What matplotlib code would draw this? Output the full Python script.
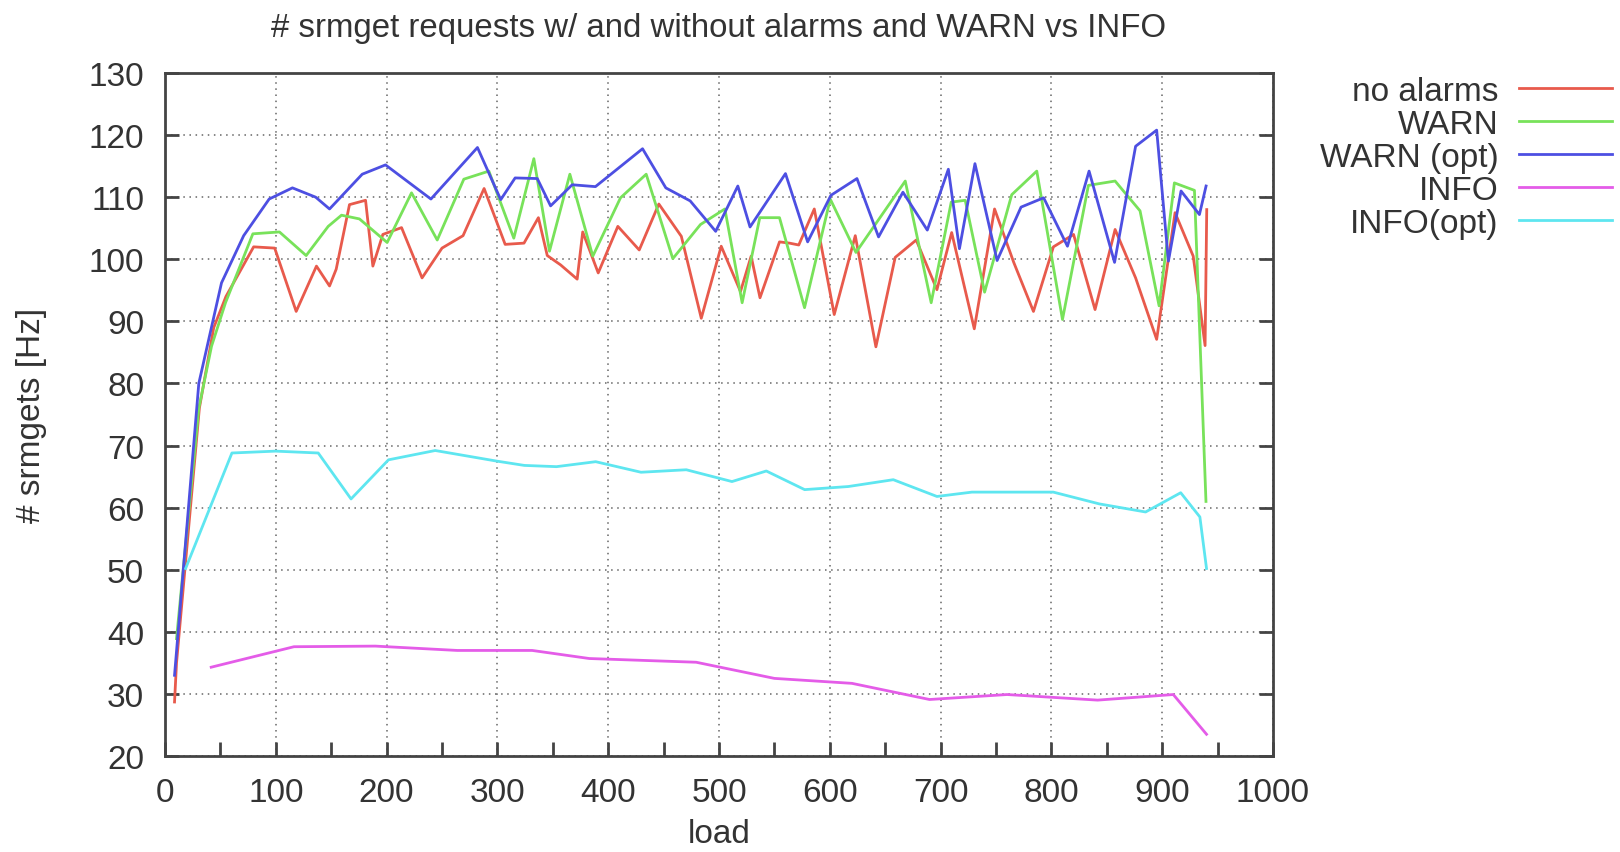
import matplotlib
matplotlib.use('Agg')
import matplotlib.pyplot as plt
from matplotlib.ticker import MultipleLocator

plt.rcParams['font.family'] = ['Liberation Sans', 'DejaVu Sans']

# load / rate pairs, one list per series
noalarm_x = [8.6, 10.4, 31, 44, 55, 80, 99, 118.4, 136.7, 148.5, 154.5, 166.5, 181, 187.6, 196.6,
             213.5, 232, 250, 269, 288, 307, 324, 337, 345, 357, 372, 377, 391, 408.7, 428,
             445.7, 466, 484, 502, 519.4, 529, 537, 554.6, 563.6, 572, 586, 604, 623, 641.6,
             659, 678, 696.7, 710, 730.4, 748.7, 766, 783.8, 801.8, 820, 839.4, 857.5, 876,
             895, 911.6, 928, 938.7, 940.2]
noalarm_y = [28.7, 35, 76, 89, 94, 102, 101.8, 91.6, 98.9, 95.7, 98.4, 108.8, 109.5, 98.9, 104,
             105.1, 97, 101.8, 103.8, 111.4, 102.4, 102.6, 106.7, 100.6, 99.1, 96.8, 104.4, 97.8,
             105.3, 101.5, 108.9, 103.7, 90.5, 102.1, 94.8, 100.5, 93.8, 102.8, 102.6, 102.3,
             108.1, 91.1, 103.8, 85.9, 100.3, 103.1, 95.1, 104.3, 88.8, 108.1, 99.5, 91.6, 102,
             104, 91.9, 104.8, 97, 87.1, 107.5, 100.5, 86.1, 108]

warn_x = [10.4, 30.5, 42, 54.6, 79.3, 103.3, 127.4, 147.3, 159.3, 175.5, 200.5, 222.5, 245.7,
          269.7, 292.3, 314.8, 332.9, 347, 365.4, 386.1, 411.1, 434.3, 458.3, 483.3, 505.3,
          520.9, 536.8, 554.6, 577.2, 600.4, 623.6, 668.1, 691.5, 709.6, 722.2, 739.7, 764.2,
          786.8, 810, 833.4, 857.5, 880, 897.2, 911, 929.1, 939.5]
warn_y = [38.9, 76, 86, 93, 104.1, 104.4, 100.6, 105.3, 107.1, 106.5, 102.7, 110.7, 103.1,
          112.9, 114.2, 103.4, 116.2, 101.3, 113.7, 100.5, 109.9, 113.7, 100.1, 105.6, 108.1,
          93, 106.7, 106.7, 92.2, 109.7, 101.1, 112.6, 93, 109.2, 109.5, 94.7, 110.4, 114.2,
          90.3, 111.9, 112.6, 107.8, 92.5, 112.3, 111.1, 61]

warnopt_x = [8.6, 30.5, 51, 71, 94, 115, 136, 148.5, 178, 199, 240, 282, 303, 316, 336, 348,
             367.5, 388.5, 431, 452, 474, 497, 517, 528, 560, 580, 601, 624.5, 644, 666, 688,
             707, 717, 731, 751, 772.6, 793, 814.5, 834, 857, 876, 895, 905.6, 917, 933.6, 939.6]
warnopt_y = [33, 80, 96.2, 103.8, 109.7, 111.5, 110, 108.1, 113.7, 115.2, 109.7, 118, 109.6,
             113.1, 113, 108.6, 112, 111.7, 117.8, 111.5, 109.4, 104.5, 111.8, 105.2, 113.8,
             102.8, 110.3, 113, 103.6, 110.8, 104.7, 114.5, 101.7, 115.4, 99.8, 108.4, 109.9,
             102.1, 114.2, 99.5, 118.2, 120.8, 99.7, 111, 107.2, 111.8]

info_x = [41.7, 116.4, 189.8, 263.8, 331.4, 382.9, 479.4, 550, 620, 690, 760, 841.7, 910, 940]
info_y = [34.3, 37.6, 37.7, 37.0, 37.0, 35.7, 35.1, 32.5, 31.7, 29.1, 29.9, 29.0, 29.9, 23.5]

infoopt_x = [18.6, 60.4, 99.7, 138.3, 167.9, 201.7, 243.9, 299.2, 324.3, 353.3, 388.7, 429.6,
             470.5, 511.7, 542.7, 577.3, 616.7, 657.3, 696.7, 728.3, 801.7, 843.3, 885, 916.7,
             934, 940]
infoopt_y = [50.2, 68.8, 69.1, 68.8, 61.4, 67.7, 69.2, 67.5, 66.8, 66.6, 67.4, 65.7, 66.1,
             64.2, 65.9, 62.9, 63.4, 64.5, 61.8, 62.5, 62.5, 60.6, 59.3, 62.4, 58.5, 50.2]

series = [
    ('no alarms', noalarm_x, noalarm_y, '#e85a4c'),
    ('WARN', warn_x, warn_y, '#78e25a'),
    ('WARN (opt)', warnopt_x, warnopt_y, '#4d4fe2'),
    ('INFO', info_x, info_y, '#e45ce8'),
    ('INFO(opt)', infoopt_x, infoopt_y, '#5ee6f0'),
]

txt = '#333333'
fs = 24
fig = plt.figure(figsize=(16.2, 8.53), dpi=100)
ax = fig.add_axes([165/1620, 1-757/853, (1273-165)/1620, (757-74)/853])

for name, xs, ys, col in series:
    ax.plot(xs, ys, color=col, lw=2.0, label=name)

ax.set_xlim(0, 1000)
ax.set_ylim(20, 130)
ax.xaxis.set_major_locator(MultipleLocator(100))
ax.xaxis.set_minor_locator(MultipleLocator(50))
ax.yaxis.set_major_locator(MultipleLocator(10))
ax.grid(True, which='major', color='#666666', linestyle=(0, (1, 3)), lw=1.1)
ax.tick_params(which='both', direction='in', length=10, width=2, color='#444444',
               labelsize=fs, labelcolor=txt, right=True)
ax.tick_params(axis='x', pad=15)
ax.tick_params(axis='y', pad=15)
for s in ax.spines.values():
    s.set_color('#444444')
    s.set_linewidth(2)

ax.set_title('# srmget requests w/ and without alarms and WARN vs INFO', fontsize=23.8,
             color=txt, pad=27)
ax.set_xlabel('load', fontsize=fs, color=txt, labelpad=7)
ax.set_ylabel('# srmgets [Hz]', fontsize=fs, color=txt, labelpad=30)

ax.legend(loc='upper right', bbox_to_anchor=(1612/1620, 1-77/853),
          bbox_transform=fig.transFigure, frameon=False, markerfirst=False,
          fontsize=fs, handlelength=2.8, handletextpad=0.6, labelspacing=0.06,
          borderpad=0, borderaxespad=0, labelcolor=txt)

fig.savefig('out.png', dpi=100, facecolor='white')
